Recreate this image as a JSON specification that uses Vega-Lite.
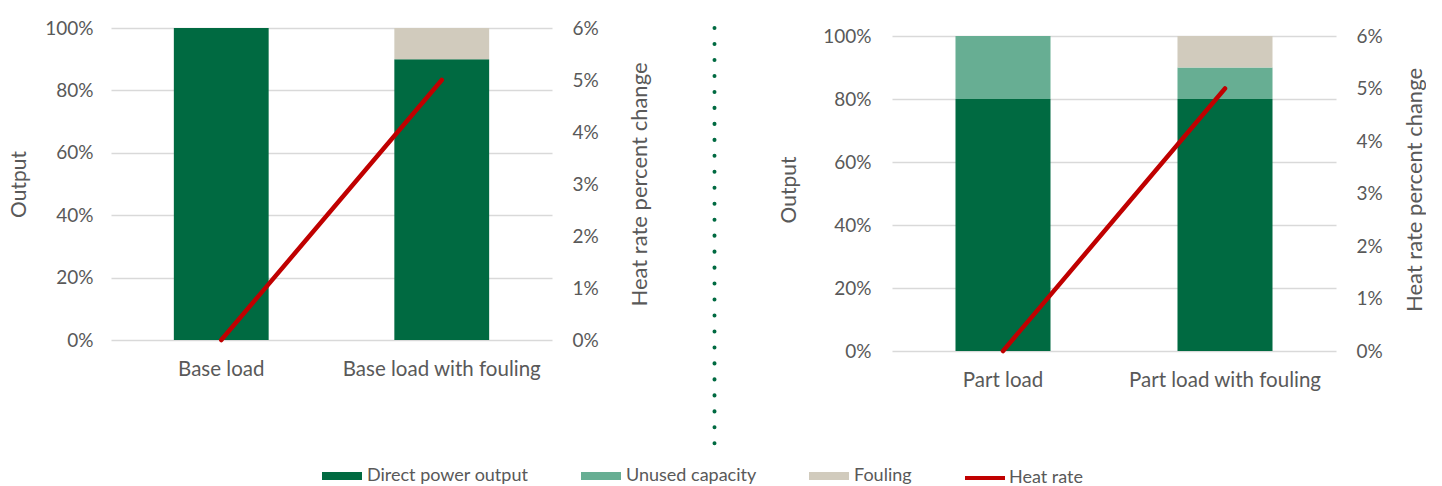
{
  "$schema": "https://vega.github.io/schema/vega-lite/v6.json",
  "autosize": {"type": "pad"},
  "padding": {"left": 8, "top": 19, "right": 0, "bottom": 0},
  "background": "white",
  "config": {
    "font": "Lato",
    "view": {"stroke": null},
    "axis": {"labelColor": "#595959", "titleColor": "#595959", "titleFontWeight": "normal", "labelFontSize": 19, "titleFontSize": 21, "ticks": false, "domain": false, "gridColor": "#D9D9D9", "gridWidth": 1.3, "labelLimit": 400},
    "axisX": {"labelFontSize": 20.5},
    "legend": {"labelColor": "#595959", "labelFontSize": 18, "labelLimit": 400}
  },
  "datasets": {
    "leftBars": [
      {"category": "Base load", "series": "Direct power output", "order": 1, "value": 1.0},
      {"category": "Base load with fouling", "series": "Direct power output", "order": 1, "value": 0.9},
      {"category": "Base load with fouling", "series": "Fouling", "order": 3, "value": 0.1}
    ],
    "leftHeat": [
      {"category": "Base load", "series": "Heat rate", "heat": 0.0},
      {"category": "Base load with fouling", "series": "Heat rate", "heat": 0.05}
    ],
    "rightBars": [
      {"category": "Part load", "series": "Direct power output", "order": 1, "value": 0.8},
      {"category": "Part load", "series": "Unused capacity", "order": 2, "value": 0.2},
      {"category": "Part load with fouling", "series": "Direct power output", "order": 1, "value": 0.8},
      {"category": "Part load with fouling", "series": "Unused capacity", "order": 2, "value": 0.1},
      {"category": "Part load with fouling", "series": "Fouling", "order": 3, "value": 0.1}
    ],
    "rightHeat": [
      {"category": "Part load", "series": "Heat rate", "heat": 0.0},
      {"category": "Part load with fouling", "series": "Heat rate", "heat": 0.05}
    ]
  },
  "spacing": 0,
  "hconcat": [
    {
      "width": 441,
      "height": 312,
      "layer": [
        {
          "data": {"name": "leftBars"},
          "mark": {"type": "bar"},
          "encoding": {
            "x": {"field": "category", "type": "nominal", "sort": ["Base load", "Base load with fouling"], "scale": {"paddingInner": 0.57, "paddingOuter": 0.285}, "axis": {"title": null, "labelAngle": 0, "labelPadding": 19}},
            "y": {"field": "value", "type": "quantitative", "stack": "zero", "scale": {"domain": [0, 1]}, "axis": {"title": "Output", "values": [0, 0.2, 0.4, 0.6, 0.8, 1.0], "format": ".0%", "labelPadding": 18, "titlePadding": 15}},
            "fill": {"field": "series", "type": "nominal", "scale": {"domain": ["Direct power output", "Unused capacity", "Fouling"], "range": ["#006A41", "#67AE93", "#D1CBBD"]},
              "legend": {"orient": "none", "legendX": 211, "legendY": 428, "direction": "horizontal", "title": null, "columnPadding": 52, "symbolType": "M-1,-0.2H1V0.2H-1Z", "symbolSize": 1600, "labelOffset": 5, "symbolStrokeWidth": 0}},
            "order": {"field": "order", "type": "quantitative", "sort": "ascending"}
          }
        },
        {
          "data": {"name": "leftHeat"},
          "mark": {"type": "line", "strokeWidth": 4.5, "strokeCap": "round"},
          "encoding": {
            "x": {"field": "category", "type": "nominal", "sort": ["Base load", "Base load with fouling"]},
            "y": {"field": "heat", "type": "quantitative", "scale": {"domain": [0, 0.06]}, "axis": {"orient": "right", "grid": false, "title": "Heat rate percent change", "titleFontSize": 22, "titleAngle": 270, "values": [0, 0.01, 0.02, 0.03, 0.04, 0.05, 0.06], "format": ".0%", "labelPadding": 20, "titlePadding": 53}},
            "stroke": {"field": "series", "type": "nominal", "scale": {"domain": ["Heat rate"], "range": ["#C00000"]},
              "legend": {"orient": "none", "legendX": 852, "legendY": 428, "title": null, "symbolType": "stroke", "symbolStrokeWidth": 4, "symbolSize": 1600, "labelOffset": 2}}
          }
        }
      ],
      "resolve": {"scale": {"y": "independent"}}
    },
    {
      "width": 127,
      "height": 420,
      "data": {"values": [{"divider": "panel separator"}]},
      "mark": {"type": "rule", "color": "#006A41", "strokeWidth": 4, "strokeCap": "round", "strokeDash": [0.1, 15.87]},
      "encoding": {
        "y": {"datum": 1, "type": "quantitative", "scale": {"domain": [0, 1]}, "axis": null},
        "y2": {"datum": 0}
      }
    },
    {
      "width": 444,
      "height": 323,
      "layer": [
        {
          "data": {"name": "rightBars"},
          "mark": {"type": "bar"},
          "encoding": {
            "x": {"field": "category", "type": "nominal", "sort": ["Part load", "Part load with fouling"], "scale": {"paddingInner": 0.572, "paddingOuter": 0.286}, "axis": {"title": null, "labelAngle": 0, "labelPadding": 19}},
            "y": {"field": "value", "type": "quantitative", "stack": "zero", "scale": {"domain": [0, 1.0254]}, "axis": {"title": "Output", "values": [0, 0.2, 0.4, 0.6, 0.8, 1.0], "format": ".0%", "labelPadding": 21, "titlePadding": 23}},
            "fill": {"field": "series", "type": "nominal"},
            "order": {"field": "order", "type": "quantitative", "sort": "ascending"}
          }
        },
        {
          "data": {"name": "rightHeat"},
          "mark": {"type": "line", "strokeWidth": 4.5, "strokeCap": "round"},
          "encoding": {
            "x": {"field": "category", "type": "nominal", "sort": ["Part load", "Part load with fouling"]},
            "y": {"field": "heat", "type": "quantitative", "scale": {"domain": [0, 0.061524]}, "axis": {"orient": "right", "grid": false, "title": "Heat rate percent change", "titleFontSize": 22, "titleAngle": 270, "values": [0, 0.01, 0.02, 0.03, 0.04, 0.05, 0.06], "format": ".0%", "labelPadding": 20, "titlePadding": 44}},
            "stroke": {"field": "series", "type": "nominal"}
          }
        }
      ],
      "resolve": {"scale": {"y": "independent"}}
    }
  ]
}
